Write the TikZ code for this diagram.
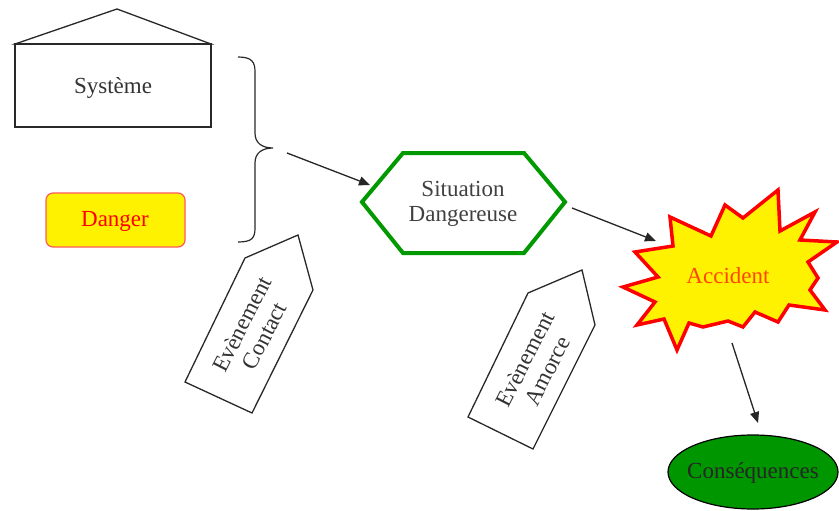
\documentclass[tikz,border=0pt]{standalone}
\usepackage{fontspec}
\setmainfont{Liberation Serif}
\usetikzlibrary{arrows.meta,shapes.geometric}
\definecolor{hexgreen}{RGB}{0,153,0}
\definecolor{conseq}{RGB}{0,150,0}
\definecolor{dangerborder}{RGB}{255,90,90}
\definecolor{accidenttext}{RGB}{255,70,0}
\definecolor{linegray}{RGB}{40,40,40}
\tikzset{
  lbl/.style={font=\fontsize{23}{25}\selectfont, align=center, inner sep=0pt},
  outline/.style={draw=linegray, line width=1.3pt},
  conn/.style={draw=black!85, line width=1.3pt, -{Triangle[length=11pt,width=9pt]}},
}
\begin{document}
\begin{tikzpicture}[x=1pt,y=-1pt]
\useasboundingbox (0,0) rectangle (839,511);
\fill[white] (0,0) rectangle (839,511);

% Systeme house
\draw[outline, line join=miter] (15,44) -- (117,9) -- (211,44) -- cycle;
\draw[outline] (15,44) rectangle (211,127);
\node[lbl, text=black!80] (sys) at (113,88) {Système};

% Danger
\draw[draw=dangerborder, line width=1.2pt, fill=yellow, rounded corners=7pt] (46,193) rectangle (185,247);
\node[lbl, text=red] (dang) at (115,221) {Danger};

% Brace
\draw[outline, line width=1.2pt] (238,57) .. controls (252,57) and (255,62) .. (255,72)
  -- (255,133) .. controls (255,143) and (262,148) .. (273,148)
  .. controls (262,148) and (255,153) .. (255,163)
  -- (255,228) .. controls (255,238) and (252,242) .. (238,242);

% Hexagon
\draw[draw=hexgreen, line width=4pt, line join=miter] (362,202) -- (403,153) -- (524,153) -- (565,202) -- (524,253) -- (403,253) -- cycle;
\node[lbl, text=black!75] (sit) at (463,204) {Situation\\Dangereuse};

% Accident starburst
\draw[draw=red, line width=3.5pt, fill=yellow, line join=miter]
 (623,287) -- (658,277) -- (635,252) -- (673,246) -- (670,217) -- (711,236)
 -- (725,205) -- (743,218) -- (778,190) -- (780,231) -- (815,212) -- (800,240)
 -- (837,242) -- (808,262) -- (818,278) -- (810,290) -- (825,310) -- (789,305)
 -- (778,322) -- (755,312) -- (743,327) -- (728,321) -- (703,327) -- (689,323)
 -- (677,350) -- (664,319) -- (637,325) -- (655,302) -- cycle;
\node[lbl, text=accidenttext] (acc) at (728,276) {Accident};

% Consequences
\draw[draw=black, line width=1.2pt, fill=conseq] (753,472) ellipse (85 and 37);
\node[lbl, text=black!85] (cons) at (753,473) {Conséquences};

% Event pentagons
\draw[outline, line join=miter] (298,235) -- (313,290) -- (252,413) -- (185,382) -- (245,258) -- cycle;
\node[lbl, rotate=63, text=black!80] (ec) at (253,330) {Evènement\\Contact};

\draw[outline, line join=miter] (582,270) -- (595,325) -- (533,449) -- (468,417) -- (528,293) -- cycle;
\node[lbl, rotate=63, text=black!80] (ea) at (536,365) {Evènement\\Amorce};

% Connectors
\coordinate (a1s) at (287,153);
\coordinate (a1e) at (370,185);
\coordinate (a2s) at (572,208);
\coordinate (a2e) at (656,241);
\coordinate (a3s) at (732,343);
\coordinate (a3e) at (758,423);
\draw[conn] (a1s) -- (a1e);
\draw[conn] (a2s) -- (a2e);
\draw[conn] (a3s) -- (a3e);
\end{tikzpicture}
\end{document}
